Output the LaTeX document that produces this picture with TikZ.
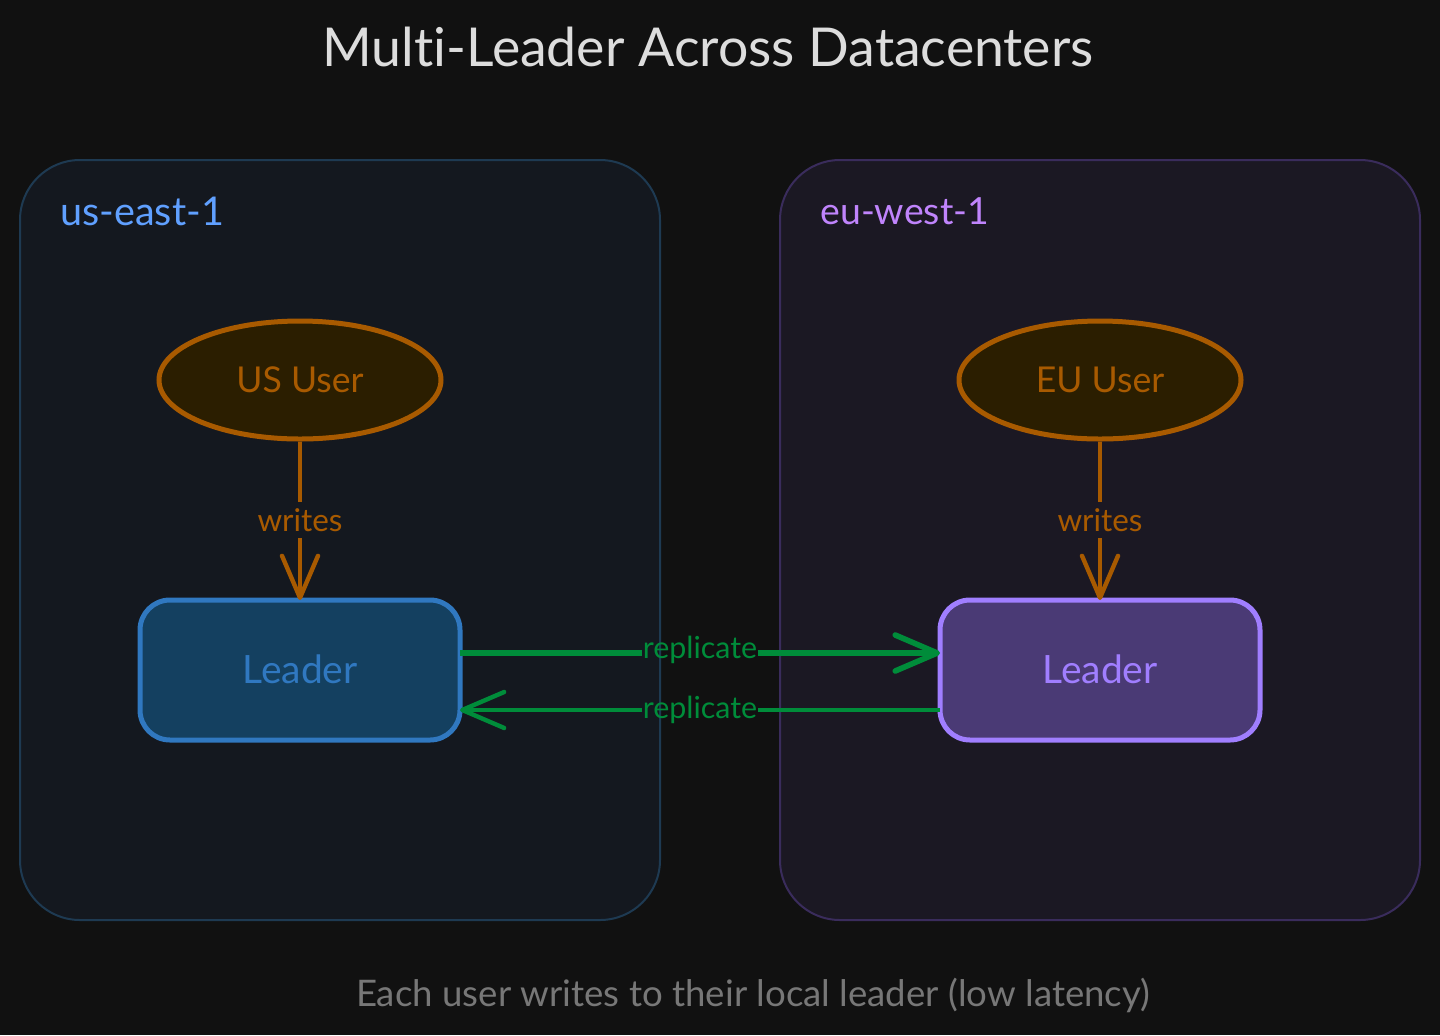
\documentclass[tikz,border=0pt]{standalone}
\usepackage{fontspec}
\setmainfont{Lato}[Ligatures=CommonOff]
\usetikzlibrary{arrows.meta,shapes.geometric}

\definecolor{pagebg}{HTML}{111111}
\definecolor{usfill}{HTML}{14181F}
\definecolor{usline}{HTML}{1E3A52}
\definecolor{usblue}{HTML}{60A0FF}
\definecolor{eufill}{HTML}{1B1823}
\definecolor{euline}{HTML}{3A2C5C}
\definecolor{eupurple}{HTML}{C084FC}
\definecolor{userfill}{HTML}{2B1E00}
\definecolor{userline}{HTML}{A85A00}
\definecolor{uleadfill}{HTML}{144060}
\definecolor{uleadline}{HTML}{3078C0}
\definecolor{eleadfill}{HTML}{4A3A75}
\definecolor{eleadline}{HTML}{A07EFF}
\definecolor{repgreen}{HTML}{008C3A}
\definecolor{titlegray}{HTML}{DDDDDD}
\definecolor{notegray}{HTML}{777777}

\tikzset{
  region/.style={draw=#1,line width=1pt,rounded corners=30pt,minimum width=320pt,minimum height=380pt,inner sep=0pt},
  user/.style={ellipse,draw=userline,fill=userfill,line width=2.5pt,text=userline,minimum width=141pt,minimum height=59pt,inner sep=0pt,font=\fontsize{17.8}{20}\selectfont},
  leader/.style={draw=#1,line width=2.5pt,rounded corners=15pt,minimum width=160pt,minimum height=70pt,text=#1,inner sep=0pt,outer sep=0pt,font=\fontsize{19.5}{22}\selectfont},
  edgelabel/.style={inner sep=0pt,minimum height=18pt,font=\fontsize{15.2}{17}\selectfont},
  writeline/.style={draw=userline,line width=2.2pt},
  repline/.style={draw=repgreen,line width=2.2pt},
  vtip/.style={-{Straight Barb[length=21pt,width=18pt,round]}}
}

\begin{document}
\begin{tikzpicture}[x=0.5pt,y=-0.5pt]
\fill[pagebg] (0,0) rectangle (1440,1035);
\useasboundingbox (0,0) rectangle (1440,1035);

\node[text=titlegray,font=\fontsize{26.8}{30}\selectfont] (title) at (708,47) {Multi-Leader Across Datacenters};

\node[region=usline,fill=usfill] (useast) at (340,540) {};
\node[region=euline,fill=eufill] (euwest) at (1100,540) {};
\node[anchor=west,text=usblue,inner sep=0pt,font=\fontsize{19.8}{22}\selectfont] (uslabel) at (60,211) {us-east-1};
\node[anchor=west,text=eupurple,inner sep=0pt,font=\fontsize{18.7}{21}\selectfont] (eulabel) at (820,211) {eu-west-1};

\node[user] (ususer) at (300,380) {US User};
\node[user] (euuser) at (1100,380) {EU User};
\node[leader=uleadline,fill=uleadfill] (usleader) at (300,670) {\raisebox{1pt}{Leader}};
\node[leader=eleadline,fill=eleadfill] (euleader) at (1100,670) {\raisebox{1pt}{Leader}};

\begin{scope}[every node/.style={edgelabel}]
\node[text=userline] (uswrites) at (300,520) {\fontsize{15.7}{17}\selectfont writes};
\node[text=userline] (euwrites) at (1100,520) {\fontsize{15.7}{17}\selectfont writes};
\node[text=repgreen] (repout) at (700,650) {replicate};
\node[text=repgreen] (repback) at (700,710) {replicate};
\end{scope}

\draw[writeline] (ususer) -- (uswrites);
\draw[writeline,vtip] (uswrites) -- (usleader);
\draw[writeline] (euuser) -- (euwrites);
\draw[writeline,vtip] (euwrites) -- (euleader);

\draw[repline,line width=2.8pt] (usleader.east |- 0,653) -- (repout.west |- 0,653);
\draw[repline,line width=2.8pt,vtip] (repout.east |- 0,653) -- (euleader.west |- 0,653);
\draw[repline] (euleader.west |- repback) -- (repback);
\draw[repline,vtip] (repback) -- (usleader.east |- repback);

\node[text=notegray,font=\fontsize{18.3}{20}\selectfont] (note) at (753,995) {Each user writes to their local leader (low latency)};
\end{tikzpicture}
\end{document}
